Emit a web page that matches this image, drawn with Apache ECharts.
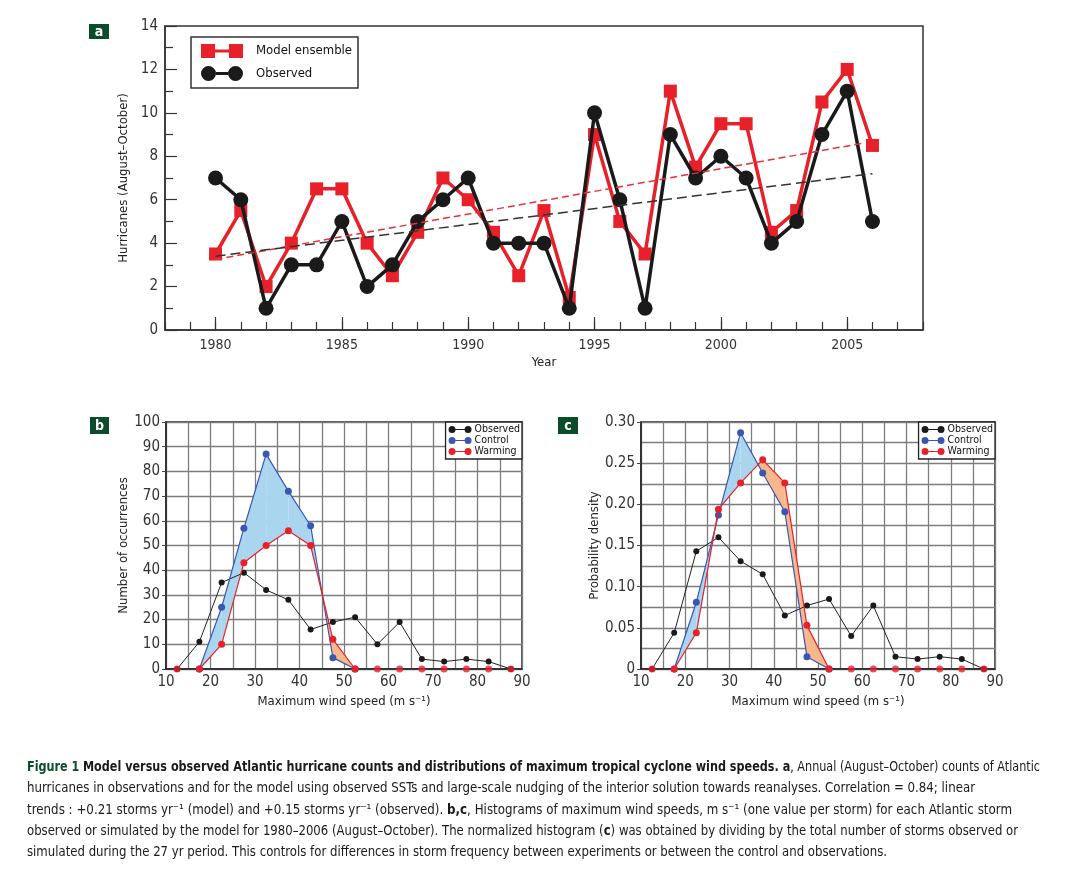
<!DOCTYPE html>
<html>
<head>
<meta charset="utf-8">
<title>Atlantic hurricanes</title>
<script src="https://cdn.jsdelivr.net/npm/echarts@6/dist/echarts.min.js"></script>
<style>
  html, body { margin: 0; padding: 0; background: #fff; }
  #main { width: 1090px; height: 872px; }
  #cap {
    position: absolute; left: 27px; top: 756px;
    font-family: 'Liberation Sans Narrow', 'DejaVu Sans Condensed', 'Arial Narrow', sans-serif;
    font-size: 14px; line-height: 21.3px; color: #1a1a1a; white-space: nowrap;
  }
  #cap .ln { display: inline-block; transform-origin: 0 50%; }
  #cap .g { color: #0b4d2b; font-weight: bold; }
</style>
</head>
<body>
<div id="main"></div>
<div id="cap">
  <div><span class="ln" data-w="1013"><span class="g">Figure 1</span> <b>Model versus observed Atlantic hurricane counts and distributions of maximum tropical cyclone wind speeds. a</b>, Annual (August–October) counts of Atlantic</span></div>
  <div><span class="ln" data-w="948">hurricanes in observations and for the model using observed SSTs and large-scale nudging of the interior solution towards reanalyses. Correlation = 0.84; linear</span></div>
  <div><span class="ln" data-w="985">trends : +0.21 storms yr⁻¹ (model) and +0.15 storms yr⁻¹ (observed). <b>b,c</b>, Histograms of maximum wind speeds, m s⁻¹ (one value per storm) for each Atlantic storm</span></div>
  <div><span class="ln" data-w="991">observed or simulated by the model for 1980–2006 (August–October). The normalized histogram (<b>c</b>) was obtained by dividing by the total number of storms observed or</span></div>
  <div><span class="ln" data-w="860">simulated during the 27 yr period. This controls for differences in storm frequency between experiments or between the control and observations.</span></div>
</div>
<script>
var FONT = "'Liberation Sans Narrow', 'DejaVu Sans Condensed', 'Arial Narrow', sans-serif";
var RED = '#e8202a';
var BLUE = '#3a56b0';
var BLACK = '#1a1a1a';
var GRID_GRAY = '#7d7d7d';
var BLUE_FILL = '#a9d5ef';
var ORANGE_FILL = '#f7b88e';
var LABEL_GREEN = '#0b4d2b';

// panel a
var years = [1980, 1981, 1982, 1983, 1984, 1985, 1986, 1987, 1988, 1989, 1990, 1991, 1992, 1993,
             1994, 1995, 1996, 1997, 1998, 1999, 2000, 2001, 2002, 2003, 2004, 2005, 2006];
var modelEnsemble = [3.5, 5.5, 2, 4, 6.5, 6.5, 4, 2.5, 4.5, 7, 6, 4.5, 2.5, 5.5,
                     1.5, 9, 5, 3.5, 11, 7.5, 9.5, 9.5, 4.5, 5.5, 10.5, 12, 8.5];
var observedCounts = [7, 6, 1, 3, 3, 5, 2, 3, 5, 6, 7, 4, 4, 4,
                      1, 10, 6, 1, 9, 7, 8, 7, 4, 5, 9, 11, 5];
var modelTrend = [[1980, 3.25], [2005.6, 8.6]];
var observedTrend = [[1980, 3.4], [2006, 7.2]];
var yearLabels = [1980, 1985, 1990, 1995, 2000, 2005];

// panels b and c
var windBins = [12.5, 17.5, 22.5, 27.5, 32.5, 37.5, 42.5, 47.5, 52.5, 57.5, 62.5, 67.5, 72.5, 77.5, 82.5, 87.5];
var obsCount = [0, 11, 35, 39, 32, 28, 16, 19, 21, 10, 19, 4, 3, 4, 3, 0];
var ctlCount = [0, 0, 25, 57, 87, 72, 58, 4.6, 0, 0, 0, 0, 0, 0, 0, 0];
var wrmCount = [0, 0, 10, 43, 50, 56, 50, 12, 0, 0, 0, 0, 0, 0, 0, 0];
var obsDensity = [0, 0.044, 0.143, 0.160, 0.131, 0.115, 0.065, 0.077, 0.085, 0.040, 0.077, 0.015, 0.012, 0.015, 0.012, 0];
var ctlDensity = [0, 0, 0.081, 0.187, 0.287, 0.238, 0.191, 0.015, 0, 0, 0, 0, 0, 0, 0, 0];
var wrmDensity = [0, 0, 0.044, 0.194, 0.226, 0.254, 0.226, 0.053, 0, 0, 0, 0, 0, 0, 0, 0];

var SQUARE_ICON = 'path://M0,0h14v14h-14z M14,5.5h14v3h-14z M28,0h14v14h-14z';
var CIRCLE_ICON = 'path://M0,7.5a7.5,7.5 0 1,0 15,0a7.5,7.5 0 1,0 -15,0z M15,6h12v3h-12z M27,7.5a7.5,7.5 0 1,0 15,0a7.5,7.5 0 1,0 -15,0z';
var DOT_ICON = 'path://M0,3.5a3.5,3.5 0 1,0 7,0a3.5,3.5 0 1,0 -7,0z M7,2.9h9v1.2h-9z M16,3.5a3.5,3.5 0 1,0 7,0a3.5,3.5 0 1,0 -7,0z';

function pairs(xs, ys) {
  return xs.map(function (x, i) { return [x, ys[i]]; });
}

// drop the flat runs along zero so they don't paint over the axis
function linePoints(xs, ys) {
  return xs.map(function (x, i) {
    var prev = i > 0 ? ys[i - 1] : 0, next = i < ys.length - 1 ? ys[i + 1] : 0;
    if (ys[i] === 0 && prev === 0 && next === 0) return [x, null];
    return [x, ys[i]];
  });
}

function zeroPoints(xs, ys) {
  var out = [];
  linePoints(xs, ys).forEach(function (p) { if (p[1] === null) out.push([p[0], 0]); });
  return out;
}

function segments(xs, a, b) {
  var out = [];
  for (var i = 0; i < xs.length - 1; i++) {
    out.push([xs[i], a[i], b[i], xs[i + 1], a[i + 1], b[i + 1]]);
  }
  return out;
}

function fillBetween(params, api) {
  var x0 = api.value(0), a0 = api.value(1), b0 = api.value(2);
  var x1 = api.value(3), a1 = api.value(4), b1 = api.value(5);
  var d0 = a0 - b0, d1 = a1 - b1;
  var shapes = [];
  function poly(pts, color) {
    shapes.push({
      type: 'polygon',
      shape: { points: pts.map(function (p) { return api.coord(p); }) },
      style: { fill: color }
    });
  }
  if (d0 * d1 < 0) {
    var t = d0 / (d0 - d1);
    var xm = x0 + t * (x1 - x0), ym = a0 + t * (a1 - a0);
    poly([[x0, a0], [xm, ym], [x0, b0]], d0 > 0 ? BLUE_FILL : ORANGE_FILL);
    poly([[xm, ym], [x1, a1], [x1, b1]], d1 > 0 ? BLUE_FILL : ORANGE_FILL);
  } else if (d0 !== 0 || d1 !== 0) {
    poly([[x0, a0], [x1, a1], [x1, b1], [x0, b0]], (d0 + d1) > 0 ? BLUE_FILL : ORANGE_FILL);
  }
  return { type: 'group', children: shapes };
}

function histXAxis(gi) {
  return {
    gridIndex: gi, type: 'value', min: 10, max: 90, interval: 10,
    name: 'Maximum wind speed (m s⁻¹)', nameLocation: 'middle', nameGap: 26,
    nameTextStyle: { fontFamily: FONT, fontSize: 13, color: '#222' },
    axisLine: { lineStyle: { color: '#222', width: 1.5 } },
    axisTick: { show: false },
    axisLabel: { fontFamily: FONT, fontSize: 15, color: '#333', margin: 6 },
    splitLine: { show: true, lineStyle: { color: GRID_GRAY, width: 1.3 } },
    minorTick: { show: false, splitNumber: 2 },
    minorSplitLine: { show: true, lineStyle: { color: GRID_GRAY, width: 1.3 } }
  };
}

function histYAxis(gi, opts) {
  return {
    gridIndex: gi, type: 'value', min: 0, max: opts.max, interval: opts.interval,
    name: opts.name, nameLocation: 'middle', nameGap: opts.nameGap,
    nameTextStyle: { fontFamily: FONT, fontSize: 13, color: '#222' },
    axisLine: { show: true, lineStyle: { color: '#222', width: 1.5 } },
    axisTick: { show: true, length: 4, lineStyle: { color: '#444' } },
    axisLabel: { fontFamily: FONT, fontSize: 15, color: '#333', margin: 6, formatter: opts.formatter },
    splitLine: { show: true, lineStyle: { color: GRID_GRAY, width: 1.3 } },
    minorTick: { show: false, splitNumber: 2 },
    minorSplitLine: { show: opts.minor, lineStyle: { color: GRID_GRAY, width: 1.3 } }
  };
}

function histSeries(xi, obs, ctl, wrm) {
  return [
    {
      type: 'custom', xAxisIndex: xi, yAxisIndex: xi, renderItem: fillBetween,
      data: segments(windBins, ctl, wrm), encode: { x: [0, 3], y: [1, 2, 4, 5] }, z: 1, silent: true
    },
    {
      name: 'Observed', type: 'line', xAxisIndex: xi, yAxisIndex: xi, data: pairs(windBins, obs),
      symbol: 'circle', symbolSize: 6, color: BLACK, lineStyle: { width: 1, color: '#222' }, z: 3
    },
    {
      name: 'Control', type: 'line', xAxisIndex: xi, yAxisIndex: xi, data: linePoints(windBins, ctl),
      symbol: 'circle', symbolSize: 7, color: BLUE, lineStyle: { width: 1.2, color: BLUE }, z: 4
    },
    {
      name: 'Warming', type: 'line', xAxisIndex: xi, yAxisIndex: xi, data: linePoints(windBins, wrm),
      symbol: 'circle', symbolSize: 7, color: RED, lineStyle: { width: 1.2, color: RED }, z: 5
    },
    {
      name: 'Warming', type: 'scatter', xAxisIndex: xi, yAxisIndex: xi, data: zeroPoints(windBins, wrm),
      symbol: 'circle', symbolSize: 7, color: RED, z: 5
    }
  ];
}

function histLegend(right) {
  return {
    right: right, top: 422, orient: 'vertical',
    backgroundColor: '#fff', borderColor: '#222', borderWidth: 1.3,
    padding: [2, 2, 2, 3], itemGap: 0, itemWidth: 23, itemHeight: 7,
    itemStyle: { borderWidth: 0 },
    textStyle: { fontFamily: FONT, fontSize: 10.5, color: '#111', lineHeight: 11, padding: [0, 0, 0, -2] },
    data: [
      { name: 'Observed', icon: DOT_ICON, itemStyle: { color: BLACK } },
      { name: 'Control', icon: DOT_ICON, itemStyle: { color: BLUE } },
      { name: 'Warming', icon: DOT_ICON, itemStyle: { color: RED } }
    ],
    selectedMode: false
  };
}

function panelTag(letter, x, y, w, h) {
  return {
    type: 'group', left: x, top: y,
    children: [
      { type: 'rect', shape: { x: 0, y: 0, width: w, height: h }, style: { fill: LABEL_GREEN } },
      {
        type: 'text', x: w / 2, y: h / 2 + 0.5,
        style: { text: letter, fill: '#fff', font: 'bold 14px ' + FONT, align: 'center', verticalAlign: 'middle' }
      }
    ]
  };
}

var chart = echarts.init(document.getElementById('main'));

var option = {
  animation: false,
  backgroundColor: '#fff',
  grid: [
    { left: 165, top: 26, width: 758, height: 304, show: true, borderColor: '#333', borderWidth: 1.5 },
    { left: 166, top: 422, width: 356, height: 247, show: true, borderColor: '#222', borderWidth: 1.5 },
    { left: 641, top: 422, width: 354, height: 247, show: true, borderColor: '#222', borderWidth: 1.5 }
  ],
  xAxis: [
    {
      gridIndex: 0, type: 'value', min: 1978, max: 2008, interval: 1, position: 'bottom',
      name: 'Year', nameLocation: 'middle', nameGap: 26,
      nameTextStyle: { fontFamily: FONT, fontSize: 13, color: '#222' },
      axisLine: { lineStyle: { color: '#333', width: 1.5 } },
      axisTick: { inside: true, length: 8, lineStyle: { color: '#333', width: 1.2 } },
      axisLabel: {
        fontFamily: FONT, fontSize: 14, color: '#333', margin: 8, customValues: yearLabels,
        formatter: function (v) { return String(v); }
      },
      splitLine: { show: false }
    },
    histXAxis(1),
    histXAxis(2),
    {
      gridIndex: 0, type: 'value', min: 1978, max: 2008, position: 'bottom',
      axisLine: { show: false },
      axisTick: { inside: true, length: 13, customValues: yearLabels, lineStyle: { color: '#333', width: 1.2 } },
      axisLabel: { show: false },
      splitLine: { show: false }
    }
  ],
  yAxis: [
    {
      gridIndex: 0, type: 'value', min: 0, max: 14, interval: 2,
      name: 'Hurricanes (August–October)', nameLocation: 'middle', nameGap: 27,
      nameTextStyle: { fontFamily: FONT, fontSize: 13, color: '#222' },
      axisLine: { show: true, lineStyle: { color: '#333', width: 1.5 } },
      axisTick: { inside: true, length: 12, lineStyle: { color: '#333', width: 1.2 } },
      minorTick: { show: true, splitNumber: 2, length: 8, lineStyle: { color: '#333', width: 1.2 } },
      axisLabel: { fontFamily: FONT, fontSize: 15, color: '#333', margin: 7 },
      splitLine: { show: false }
    },
    histYAxis(1, { max: 100, interval: 10, name: 'Number of occurrences', nameGap: 31, minor: false }),
    histYAxis(2, {
      max: 0.30, interval: 0.05, name: 'Probability density', nameGap: 40, minor: true,
      formatter: function (v) { return v === 0 ? '0' : v.toFixed(2); }
    })
  ],
  legend: [
    {
      left: 191, top: 37, orient: 'vertical',
      backgroundColor: '#fff', borderColor: '#333', borderWidth: 1.5,
      padding: [7, 6, 7, 10], itemGap: 8, itemWidth: 42, itemHeight: 15,
      itemStyle: { borderWidth: 0 },
      textStyle: { fontFamily: FONT, fontSize: 13, color: '#111', padding: [0, 0, 0, 8] },
      data: [
        { name: 'Model ensemble', icon: SQUARE_ICON, itemStyle: { color: RED } },
        { name: 'Observed', icon: CIRCLE_ICON, itemStyle: { color: BLACK } }
      ],
      selectedMode: false
    },
    histLegend(568),
    histLegend(95)
  ],
  graphic: [
    panelTag('a', 89, 24, 20, 15),
    panelTag('b', 90, 417, 19, 17),
    panelTag('c', 558, 417, 20, 17)
  ],
  series: [
    {
      name: 'Model ensemble', type: 'line', xAxisIndex: 0, yAxisIndex: 0, data: pairs(years, modelEnsemble),
      symbol: 'rect', symbolSize: 13, color: RED, lineStyle: { width: 3.5, color: RED }, z: 3
    },
    {
      name: 'Observed', type: 'line', xAxisIndex: 0, yAxisIndex: 0, data: pairs(years, observedCounts),
      symbol: 'circle', symbolSize: 15, color: BLACK, lineStyle: { width: 3.5, color: BLACK }, z: 4
    },
    {
      name: 'Model trend', type: 'line', xAxisIndex: 0, yAxisIndex: 0, data: modelTrend, symbol: 'none',
      lineStyle: { width: 1.5, color: '#e8303a', type: [7, 4] }, z: 5
    },
    {
      name: 'Observed trend', type: 'line', xAxisIndex: 0, yAxisIndex: 0, data: observedTrend, symbol: 'none',
      lineStyle: { width: 1.5, color: '#333', type: [10, 5] }, z: 6
    }
  ].concat(histSeries(1, obsCount, ctlCount, wrmCount), histSeries(2, obsDensity, ctlDensity, wrmDensity))
};

chart.setOption(option);

// squeeze each caption line so it ends where the printed one does
Array.prototype.forEach.call(document.querySelectorAll('#cap .ln'), function (el) {
  var w = el.getBoundingClientRect().width;
  el.style.transform = 'scaleX(' + (Number(el.getAttribute('data-w')) / w) + ')';
});
</script>
</body>
</html>
